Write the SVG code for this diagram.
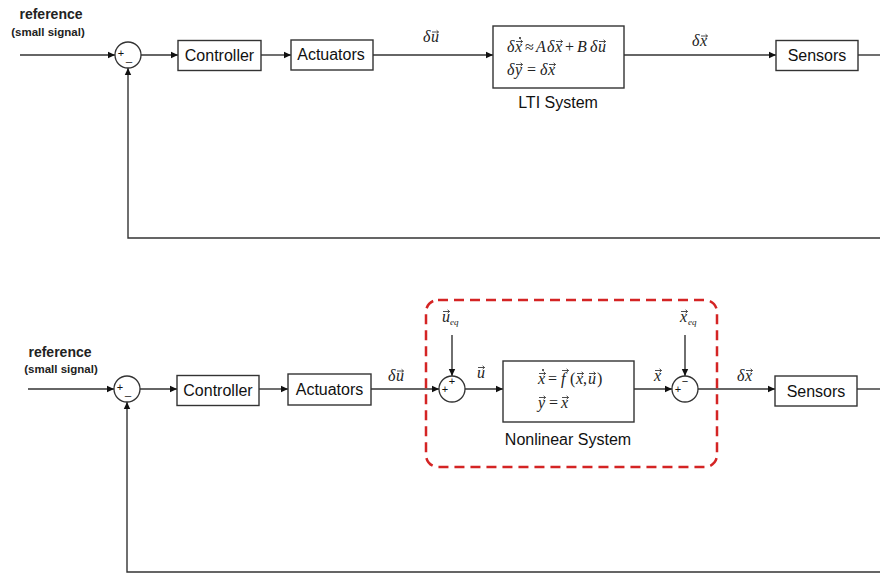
<svg xmlns="http://www.w3.org/2000/svg" xmlns:xlink="http://www.w3.org/1999/xlink" width="880" height="575" viewBox="0 0 880 575">
<style>
.box{fill:#fff;stroke:#333;stroke-width:1.4}
.sum{fill:#fff;stroke:#333;stroke-width:1.3}
.wire{fill:none;stroke:#333;stroke-width:1.4}
.lbl{font-family:"Liberation Sans",Arial,sans-serif;font-size:16px;fill:#111;text-anchor:middle}
.ref{font-family:"Liberation Sans",Arial,sans-serif;font-weight:bold;fill:#222;text-anchor:middle}
.sg{font-family:"Liberation Sans",Arial,sans-serif;font-size:11px;fill:#111;text-anchor:middle}
.m{font-family:"Liberation Serif","Times New Roman",serif;font-style:italic;font-size:16px;fill:#222}
.mu{font-family:"Liberation Serif","Times New Roman",serif;font-size:16px;fill:#222}
.sub{font-family:"Liberation Serif","Times New Roman",serif;font-style:italic;font-size:9px;fill:#222}
.vec{fill:none;stroke:#222;stroke-width:0.8}
</style>
<defs>
<marker id="ah" markerWidth="8" markerHeight="8" refX="7" refY="4" orient="auto" markerUnits="userSpaceOnUse">
<path d="M0,0.8 L7,4 L0,7.2 Z" fill="#111"/>
</marker>
<path id="v" class="vec" d="M0 0H6.5M4.6 -1.7L6.5 0L4.6 1.7"/>
</defs>

<g id="connectors">
<path class="wire" d="M20,55 H115" marker-end="url(#ah)"/>
<path class="wire" d="M141,55 H178" marker-end="url(#ah)"/>
<path class="wire" d="M261,55 H291" marker-end="url(#ah)"/>
<path class="wire" d="M373,55 H493" marker-end="url(#ah)"/>
<path class="wire" d="M624,55 H776" marker-end="url(#ah)"/>
<path class="wire" d="M858,55 H880"/>
<path class="wire" d="M880,238 H128 V68" marker-end="url(#ah)"/>
<path class="wire" d="M28,389 H114" marker-end="url(#ah)"/>
<path class="wire" d="M140,389 H177" marker-end="url(#ah)"/>
<path class="wire" d="M259,389 H288" marker-end="url(#ah)"/>
<path class="wire" d="M371,389 H439" marker-end="url(#ah)"/>
<path class="wire" d="M452,335 V376" marker-end="url(#ah)"/>
<path class="wire" d="M465,389 H503" marker-end="url(#ah)"/>
<path class="wire" d="M634,389 H672" marker-end="url(#ah)"/>
<path class="wire" d="M685,335 V376" marker-end="url(#ah)"/>
<path class="wire" d="M698,389 H775" marker-end="url(#ah)"/>
<path class="wire" d="M857,389 H880"/>
<path class="wire" d="M880,572 H127 V402" marker-end="url(#ah)"/>
</g>

<g id="ref-top">
<text class="ref" x="51" y="19" font-size="14">reference</text>
<text class="ref" x="48" y="36" font-size="11.5">(small signal)</text>
</g>
<g id="sum-top">
<circle class="sum" cx="128" cy="55" r="13"/>
<text class="sg" x="121" y="57">+</text>
<text class="sg" x="129" y="61" font-size="12">_</text>
</g>
<g id="controller-top">
<rect class="box" x="178" y="40.5" width="83" height="30"/>
<text class="lbl" x="219.5" y="61">Controller</text>
</g>
<g id="actuators-top">
<rect class="box" x="291" y="40" width="82" height="30"/>
<text class="lbl" x="331" y="60">Actuators</text>
</g>
<g id="du-top">
<text class="m" x="423" y="42">δ</text><text class="m" x="431" y="42">u</text>
<use xlink:href="#v" x="432" y="32"/>
</g>
<g id="lti">
<rect class="box" x="493" y="26" width="131" height="62"/>
<text class="m" x="507" y="52">δ</text><text class="m" x="515" y="52">x</text>
<circle cx="520" cy="38" r="1" fill="#222"/><use xlink:href="#v" x="516" y="41.5"/>
<text class="mu" x="525" y="52">≈</text>
<text class="m" x="536" y="52">A</text>
<text class="m" x="547" y="52">δ</text><text class="m" x="555" y="52">x</text><use xlink:href="#v" x="556" y="41.5"/>
<text class="mu" x="565" y="52">+</text>
<text class="m" x="577" y="52">B</text>
<text class="m" x="590" y="52">δ</text><text class="m" x="598" y="52">u</text><use xlink:href="#v" x="599" y="41.5"/>
<text class="m" x="507" y="75">δ</text><text class="m" x="515" y="75">y</text><use xlink:href="#v" x="516" y="64.5"/>
<text class="mu" x="527" y="75">=</text>
<text class="m" x="540" y="75">δ</text><text class="m" x="548" y="75">x</text><use xlink:href="#v" x="549" y="64.5"/>
<text class="lbl" x="558" y="108">LTI System</text>
</g>
<g id="dx-top">
<text class="m" x="692" y="46">δ</text><text class="m" x="700" y="46">x</text>
<use xlink:href="#v" x="701" y="36"/>
</g>
<g id="sensors-top">
<rect class="box" x="776" y="40.5" width="82" height="30"/>
<text class="lbl" x="817" y="61">Sensors</text>
</g>

<g id="ref-bottom">
<text class="ref" x="60" y="357" font-size="14">reference</text>
<text class="ref" x="61" y="373" font-size="11.5">(small signal)</text>
</g>
<g id="sum-bottom">
<circle class="sum" cx="127" cy="389" r="13"/>
<text class="sg" x="120" y="391">+</text>
<text class="sg" x="128" y="395" font-size="12">_</text>
</g>
<g id="controller-bottom">
<rect class="box" x="177" y="375.5" width="82" height="30"/>
<text class="lbl" x="218" y="396">Controller</text>
</g>
<g id="actuators-bottom">
<rect class="box" x="288" y="374" width="83" height="31"/>
<text class="lbl" x="329.5" y="395">Actuators</text>
</g>
<g id="du-bottom">
<text class="m" x="388" y="381">δ</text><text class="m" x="396" y="381">u</text>
<use xlink:href="#v" x="397" y="371"/>
</g>
<g id="nonlinear-boundary">
<rect x="426" y="300" width="291" height="167" rx="12" ry="12" fill="none" stroke="#d42424" stroke-width="2.5" stroke-dasharray="10 6"/>
</g>
<g id="ueq">
<text class="m" x="442" y="322">u</text><text class="sub" x="450" y="325">eq</text>
<use xlink:href="#v" x="443" y="311.5"/>
</g>
<g id="sum-ueq">
<circle class="sum" cx="452" cy="389" r="13"/>
<text class="sg" x="445" y="393">+</text>
<text class="sg" x="452" y="385">+</text>
</g>
<g id="u-label">
<text class="m" x="477" y="378">u</text>
<use xlink:href="#v" x="478" y="367.5"/>
</g>
<g id="nonlinear">
<rect class="box" x="503" y="361" width="131" height="61"/>
<text class="m" x="538" y="384">x</text>
<circle cx="543" cy="370" r="1" fill="#222"/><use xlink:href="#v" x="539" y="373.5"/>
<text class="mu" x="548" y="384">=</text>
<text class="m" x="561" y="384">f</text><use xlink:href="#v" x="562" y="370.5"/>
<text class="mu" x="570" y="384">(</text>
<text class="m" x="576" y="384">x</text><use xlink:href="#v" x="577" y="373.5"/>
<text class="mu" x="583" y="384">,</text>
<text class="m" x="588" y="384">u</text><use xlink:href="#v" x="589" y="373.5"/>
<text class="mu" x="597" y="384">)</text>
<text class="m" x="538" y="408">y</text><use xlink:href="#v" x="539" y="397.5"/>
<text class="mu" x="549" y="408">=</text>
<text class="m" x="561" y="408">x</text><use xlink:href="#v" x="562" y="397.5"/>
<text class="lbl" x="568" y="445">Nonlinear System</text>
</g>
<g id="x-label">
<text class="m" x="654" y="381">x</text>
<use xlink:href="#v" x="655" y="370.5"/>
</g>
<g id="xeq">
<text class="m" x="680" y="322">x</text><text class="sub" x="688" y="325">eq</text>
<use xlink:href="#v" x="681" y="311.5"/>
</g>
<g id="sum-xeq">
<circle class="sum" cx="685" cy="389" r="13"/>
<text class="sg" x="678" y="393">+</text>
<text class="sg" x="685" y="385" font-size="13">−</text>
</g>
<g id="dx-bottom">
<text class="m" x="737" y="381">δ</text><text class="m" x="745" y="381">x</text>
<use xlink:href="#v" x="746" y="370.5"/>
</g>
<g id="sensors-bottom">
<rect class="box" x="775" y="376" width="82" height="30"/>
<text class="lbl" x="816" y="397">Sensors</text>
</g>
</svg>
